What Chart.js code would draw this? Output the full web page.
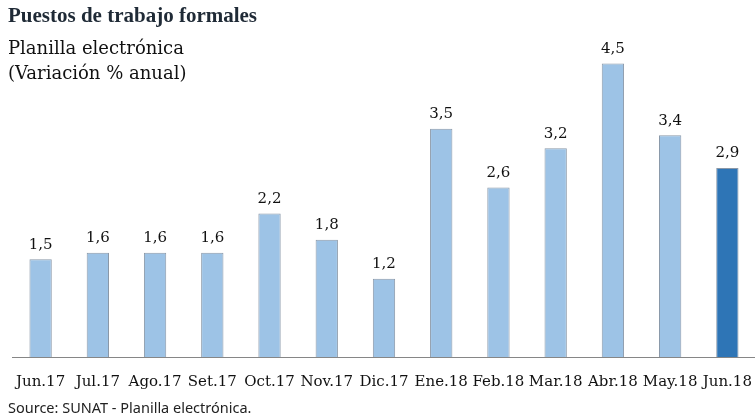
<!DOCTYPE html>
<html>
<head>
<meta charset="utf-8">
<script src="https://cdn.jsdelivr.net/npm/chart.js@4"></script>
<style>
    html, body { margin: 0; padding: 0; background: #fff; overflow: hidden; }
    #wrap { position: relative; width: 755px; height: 416px; overflow: hidden; }
    #chart1 { position: absolute; left: 0; top: 0; }
    .title { position: absolute; left: 8px; top: 3px; font: bold 21px 'Liberation Serif', serif; color: #1f2a36; }
    .sub { position: absolute; left: 8px; font: 18px 'DejaVu Serif', serif; color: #111; }
    .source { position: absolute; left: 8px; top: 397px; font: 14.5px 'Noto Sans', sans-serif; color: #222; }
</style>
</head>
<body>
<div id="wrap">
    <canvas id="chart1" width="760" height="416"></canvas>
    <div class="title">Puestos de trabajo formales</div>
    <div class="sub" style="top:37px">Planilla electrónica</div>
    <div class="sub" style="top:62px">(Variación % anual)</div>
    <div class="source">Source: SUNAT - Planilla electrónica.</div>
</div>
<script>
const months = ['Jun.17', 'Jul.17', 'Ago.17', 'Set.17', 'Oct.17', 'Nov.17', 'Dic.17',
    'Ene.18', 'Feb.18', 'Mar.18', 'Abr.18', 'May.18', 'Jun.18'];
const variation = [1.5, 1.6, 1.6, 1.6, 2.2, 1.8, 1.2, 3.5, 2.6, 3.2, 4.5, 3.4, 2.9];

// last month highlighted in dark blue
const backgrounds = variation.map(function (v, i) {
    return i === variation.length - 1 ? '#2e75b6' : '#9dc3e6';
});

// write the value on top of each bar, with a comma as decimal mark
const valueLabels = {
    id: 'valueLabels',
    afterDatasetsDraw(chart) {
        const ctx = chart.ctx;
        const meta = chart.getDatasetMeta(0);
        ctx.save();
        ctx.font = '15px "DejaVu Serif", serif';
        ctx.fillStyle = '#111';
        ctx.textAlign = 'center';
        ctx.textBaseline = 'bottom';
        meta.data.forEach(function (bar, i) {
            ctx.fillText(variation[i].toFixed(1).replace('.', ','), bar.x, bar.y - 7);
        });
        ctx.restore();
    }
};

const ctx = document.getElementById('chart1');
const myChart = new Chart(ctx, {
    type: 'bar',
    data: {
        labels: months,
        datasets: [{
            data: variation,
            backgroundColor: backgrounds,
            borderColor: '#8a98a8',
            borderWidth: 1,
            barPercentage: 0.39,
            categoryPercentage: 1
        }]
    },
    options: {
        responsive: false,
        animation: false,
        devicePixelRatio: 1,
        layout: { padding: { left: 12, right: 1, top: 31, bottom: 17 } },
        plugins: { legend: { display: false }, tooltip: { enabled: false } },
        scales: {
            y: { display: false, min: 0, max: 5 },
            x: {
                grid: { display: false },
                border: { color: '#868686', width: 1 },
                ticks: {
                    color: '#111',
                    padding: 8,
                    maxRotation: 0,
                    autoSkip: false,
                    font: { family: 'DejaVu Serif', size: 15 }
                }
            }
        }
    },
    plugins: [valueLabels]
});
</script>
</body>
</html>
